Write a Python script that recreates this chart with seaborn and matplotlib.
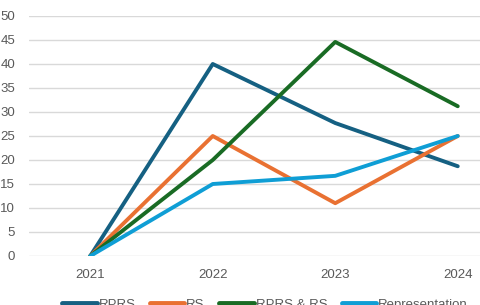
import matplotlib
matplotlib.use('Agg')
import matplotlib.pyplot as plt
import seaborn as sns
import pandas as pd

# data
years = ['2021', '2022', '2023', '2024']
rprs = [0, 40, 27.7, 18.7]
rs = [0, 25, 11.0, 25]
rprs_rs = [0, 20, 44.6, 31.2]
representation = [0, 15, 16.7, 25]

series_names = ['RPRS', 'RS', 'RPRS & RS', 'Representation']
series_colors = ['#156082', '#E97132', '#196B24', '#0F9ED5']
y_ticks = [0, 5, 10, 15, 20, 25, 30, 35, 40, 45, 50]

rows = []
for name, vals in zip(series_names, [rprs, rs, rprs_rs, representation]):
    for i, (yr, v) in enumerate(zip(years, vals)):
        rows.append({'pos': i, 'Year': yr, 'Value': v, 'Series': name})
df = pd.DataFrame(rows)

sns.set_style('white')
plt.rcParams['font.family'] = ['Liberation Sans', 'DejaVu Sans']

fig = plt.figure(figsize=(4.8, 3.05), dpi=100)
ax = fig.add_axes([29 / 480, 49 / 305, 490 / 480, 240 / 305])

sns.lineplot(data=df, x='pos', y='Value', hue='Series', hue_order=series_names,
             palette=series_colors, linewidth=2.8, ax=ax, legend=True)

ax.set_xlim(-0.5, 3.5)
ax.set_ylim(0, 50)
ax.set_xticks(range(len(years)))
ax.set_xticklabels(years)
ax.set_yticks(y_ticks)
ax.tick_params(axis='both', length=0, labelsize=9.5, labelcolor='#595959')
ax.tick_params(axis='y', pad=10)
ax.tick_params(axis='x', pad=9)
ax.yaxis.grid(True, color='#d9d9d9', linewidth=1)
ax.set_axisbelow(True)
for s in ax.spines.values():
    s.set_visible(False)
ax.set_xlabel('')
ax.set_ylabel('')

handles, labels = ax.get_legend_handles_labels()
ax.get_legend().remove()
leg = fig.legend(handles, labels, loc='center', bbox_to_anchor=(265 / 480, 0.5 / 305),
                 ncol=4, frameon=False, fontsize=9.5, handlelength=2.6,
                 handletextpad=0.15, columnspacing=1.1, labelcolor='#595959')
for h in leg.get_lines():
    h.set_linewidth(3.5)

fig.savefig('out.png', dpi=100)
